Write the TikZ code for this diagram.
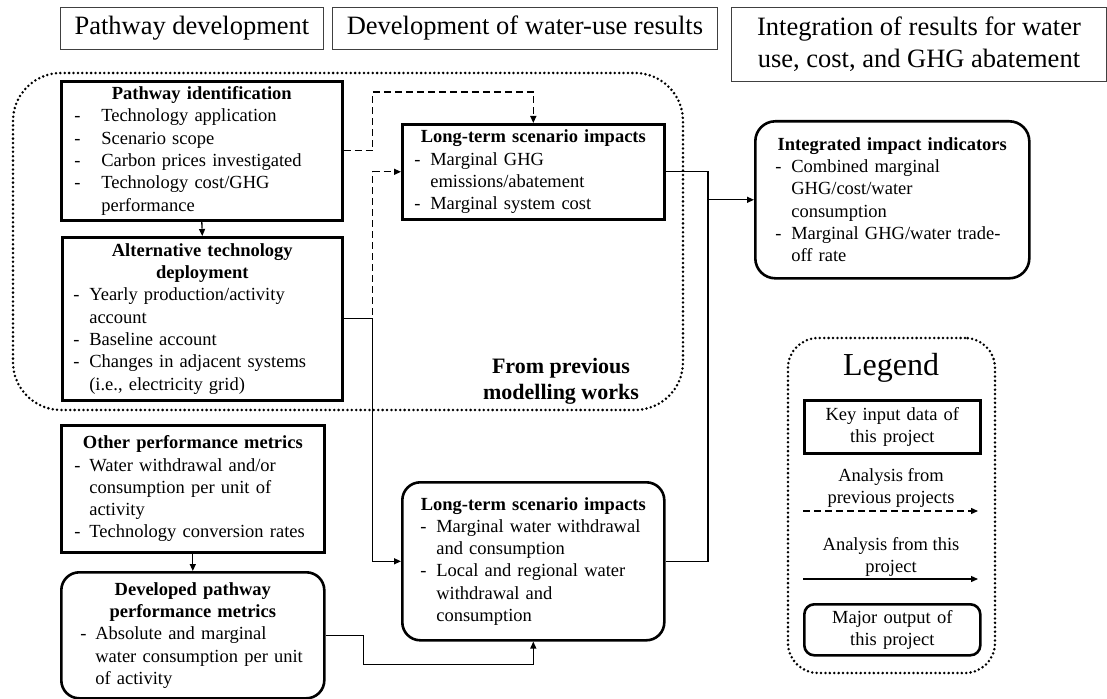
\documentclass[tikz,border=0pt]{standalone}
\usepackage{fontspec}
\setmainfont{Liberation Serif}
\usetikzlibrary{arrows.meta}

\newlength{\dindent}
\newlength{\dgap}
\newcommand{\bodyfont}{\fontsize{18.5}{22.3}\selectfont}
\newcommand{\boxtitle}[1]{{\centering\bfseries #1\par}}
\newcommand{\dashitem}[1]{{\raggedright\leftskip=\dindent\noindent\hangindent=\dgap\hangafter=1\makebox[\dgap][l]{-}#1\par}}

\tikzstyle{arrow} = [line width=1.3pt,-{Triangle[length=7pt,width=6pt]}]
\tikzstyle{dasharrow} = [arrow,dash pattern=on 7pt off 4pt]
\tikzstyle{wire} = [line width=1.3pt]
\tikzstyle{keybox} = [draw,line width=2.6pt,anchor=north west,inner xsep=0pt,inner ysep=0pt,font=\bodyfont]
\tikzstyle{outbox} = [keybox,rounded corners=18pt]
\tikzstyle{headbox} = [draw=black!75,line width=0.9pt,anchor=north west,inner sep=0pt,align=center,font=\fontsize{26.5}{32}\selectfont]
\tikzstyle{region} = [line width=2.8pt,dash pattern=on 0pt off 4.4pt,line cap=round,rounded corners=48pt]
\tikzset{bulletpos/.style 2 args={execute at begin node={\setlength{\dindent}{#1}\setlength{\dgap}{#2}}}}

\begin{document}
\begin{tikzpicture}[x=1pt,y=-1pt]
\useasboundingbox (0,0) rectangle (1107,698);

% column headings
\node (head1) [headbox,minimum width=263pt,minimum height=42pt] at (60,7) {Pathway development};
\node (head2) [headbox,minimum width=385pt,minimum height=42pt] at (332,7) {Development of water-use results};
\node (head3) [headbox,minimum width=375pt,minimum height=74pt] at (731,7) {Integration of results for water\\use, cost, and GHG abatement};

% earlier modelling work
\draw [region] (13,73) rectangle (683,410);
\node (prevwork) [font=\fontsize{22}{26}\selectfont\bfseries,align=center] at (561,381) {From previous\\modelling works};

\node (pid) [keybox,bulletpos={13pt}{27pt},text width=281pt,minimum height=139pt] at (60,80) {%
\boxtitle{Pathway identification}
\dashitem{Technology application}
\dashitem{Scenario scope}
\dashitem{Carbon prices investigated}
\dashitem{Technology cost/GHG\newline performance}};

\node (alt) [keybox,bulletpos={11pt}{16pt},text width=280pt,minimum height=163pt] at (61,236) {%
\boxtitle{Alternative technology\\deployment}
\dashitem{Yearly production/activity\newline account}
\dashitem{Baseline account}
\dashitem{Changes in adjacent systems\newline (i.e., electricity grid)}};

\node (ltg) [keybox,bulletpos={12pt}{16pt},text width=262pt,minimum height=95pt] at (401,123) {%
\boxtitle{Long-term scenario impacts}
\dashitem{Marginal GHG\newline emissions/abatement}
\dashitem{Marginal system cost}};

% this project
\node (other) [keybox,bulletpos={13pt}{15pt},text width=263pt,minimum height=127pt] at (60,424) {%
\boxtitle{Other performance metrics}
\dashitem{Water withdrawal and/or\newline consumption per unit of\newline activity}
\dashitem{Technology conversion rates}};

\node (dev) [outbox,bulletpos={19pt}{15pt},text width=263pt,minimum height=126pt] at (60,571) {%
\boxtitle{Developed pathway\\performance metrics}
\dashitem{Absolute and marginal\newline water consumption per unit\newline of activity}};

\node (ltw) [outbox,bulletpos={18pt}{16pt},text width=262pt,minimum height=158pt] at (401,481) {%
\boxtitle{Long-term scenario impacts}
\dashitem{Marginal water withdrawal\newline and consumption}
\dashitem{Local and regional water\newline withdrawal and\newline consumption}};

\node (iii) [outbox,rounded corners=20pt,bulletpos={20pt}{16pt},text width=274pt,minimum height=157pt] at (754,120) {%
\boxtitle{Integrated impact indicators}
\dashitem{Combined marginal\newline GHG/cost/water\newline consumption}
\dashitem{Marginal GHG/water trade-\newline off rate}};

% connectors
\coordinate (bus) at (708,300);
\draw [dasharrow] (pid.south) -- (alt.north);
\draw [dasharrow] (pid.east) -- ++(29,0) |- ([yshift=31pt]ltg.north) -- (ltg.north);
\draw [dasharrow] (alt.east) -- ++(29,0) |- (ltg.west);
\draw [arrow] (alt.east) -- ++(29,0) |- (ltw.west);
\draw [arrow] (other.south) -- (dev.north);
\draw [arrow] (dev.east) -- ++(38,0) |- ([yshift=-23pt]ltw.south) -- (ltw.south);
\draw [wire] (ltg.east) -| (bus |- ltw.east) -- (ltw.east);
\draw [arrow] (bus |- iii.west) -- (iii.west);

% legend
\node (legend) [region,draw,rounded corners=30pt,minimum width=207pt,minimum height=335pt] at (891.5,505.5) {};
\node (legtitle) [font=\fontsize{32}{38}\selectfont] at (891,368) {Legend};
\node (leginput) [keybox,align=center,text width=176pt,minimum height=53pt] at (803,399) {Key input data of\\this project};
\node (legprev) [font=\bodyfont,align=center] at (891,488) {Analysis from\\previous projects};
\coordinate (prevA) at (803,511);
\coordinate (prevB) at (978,511);
\draw [dasharrow] (prevA) -- (prevB);
\node (legthis) [font=\bodyfont,align=center] at (891,557) {Analysis from this\\project};
\coordinate (thisA) at (803,579);
\coordinate (thisB) at (978,579);
\draw [arrow] (thisA) -- (thisB);
\node (legout) [outbox,rounded corners=10pt,align=center,text width=176pt,minimum height=51pt] at (803,603) {Major output of\\this project};

\end{tikzpicture}
\end{document}
